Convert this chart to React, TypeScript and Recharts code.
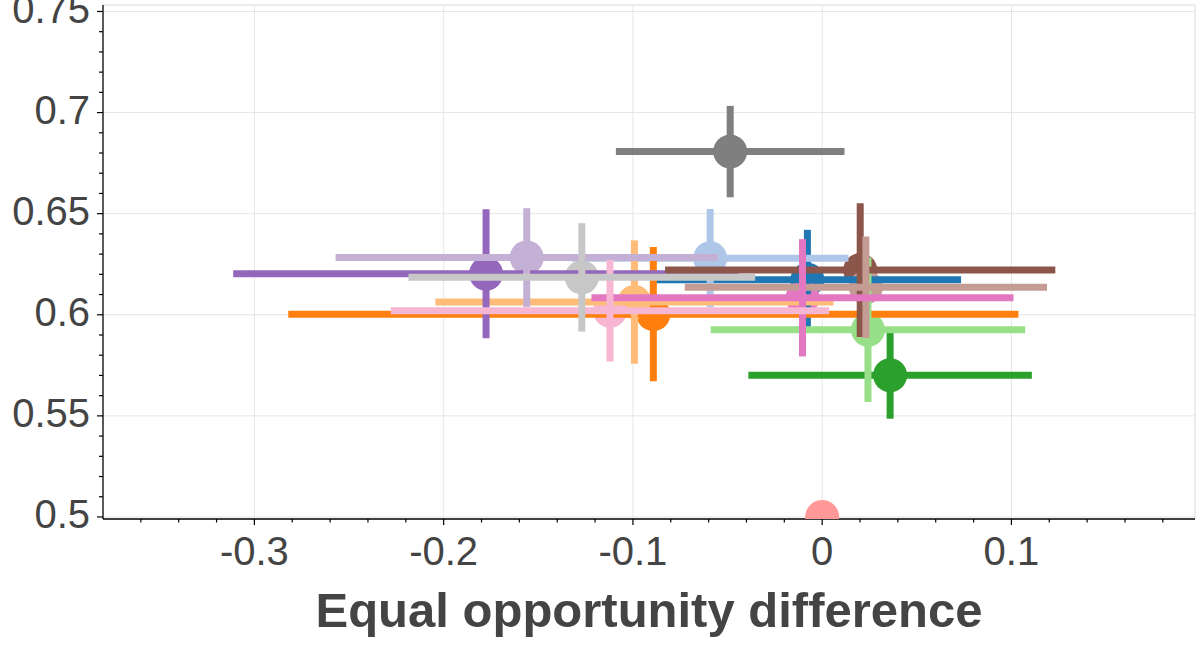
import React from 'react';
import { ScatterChart, Scatter, XAxis, YAxis, CartesianGrid, ErrorBar, ReferenceLine, Label } from 'recharts';

const seriesColors = [
  '#1f77b4', '#aec7e8', '#ff7f0e', '#ffbb78', '#2ca02c', '#98df8a', '#ff9896',
  '#9467bd', '#c5b0d5', '#8c564b', '#c49c94', '#e377c2', '#f7b6d2', '#7f7f7f', '#c7c7c7',
];
const xValues = [-0.0078, -0.0592, -0.0892, -0.0992, 0.0359, 0.0242, 0.0, -0.1776, -0.1561, 0.0201, 0.0231, -0.0104, -0.1121, -0.0486, -0.127];
const yValues = [0.6173, 0.628, 0.6003, 0.6063, 0.5701, 0.5926, 0.5, 0.6203, 0.6283, 0.6221, 0.6136, 0.6084, 0.602, 0.6807, 0.6185];
const xErrors = [0.0812, 0.0731, 0.1929, 0.1052, 0.0749, 0.0831, 0.0, 0.1336, 0.101, 0.1031, 0.0957, 0.1115, 0.1158, 0.0604, 0.0916];
const yErrors = [0.0247, 0.0243, 0.0332, 0.0305, 0.0215, 0.0357, 0.0, 0.0319, 0.0244, 0.0331, 0.0251, 0.029, 0.0251, 0.0226, 0.0268];

const xMajorTicks = [-0.3, -0.2, -0.1, 0, 0.1];
const xMinorTicks = [-0.36, -0.34, -0.32, -0.28, -0.26, -0.24, -0.22, -0.18, -0.16, -0.14, -0.12, -0.08, -0.06, -0.04, -0.02, 0.02, 0.04, 0.06, 0.08, 0.12, 0.14, 0.16, 0.18];
const yMajorTicks = [0.5, 0.55, 0.6, 0.65, 0.7, 0.75];
const yMinorTicks = [0.51, 0.52, 0.53, 0.54, 0.56, 0.57, 0.58, 0.59, 0.61, 0.62, 0.63, 0.64, 0.66, 0.67, 0.68, 0.69, 0.71, 0.72, 0.73, 0.74];
const xDomain = [-0.38, 0.197];
const yDomain = [0.499, 0.7532];

const FONT = '"Liberation Sans", Arial, Helvetica, sans-serif';
const TEXT_COLOR = '#444444';

const isMajor = (list: number[], v: number) => list.some((t) => Math.abs(t - v) < 1e-9);

const XTick = (props: any) => {
  const { x, y, payload } = props;
  const v = payload.value;
  const major = isMajor(xMajorTicks, v);
  return (
    <g>
      <line x1={x} x2={x} y1={y} y2={y + (major ? 6 : 3.5)} stroke="#000" strokeWidth={1.2} />
      {major && (
        <text x={x} y={y + 46} textAnchor="middle" fontSize={40} fontFamily={FONT} fill={TEXT_COLOR}>
          {String(v)}
        </text>
      )}
    </g>
  );
};

const YTick = (props: any) => {
  const { x, y, payload } = props;
  const v = payload.value;
  const major = isMajor(yMajorTicks, v);
  return (
    <g>
      <line x1={x} x2={x - (major ? 6 : 4)} y1={y} y2={y} stroke="#000" strokeWidth={1.2} />
      {major && (
        <text x={x - 13} y={y + 11.5} textAnchor="end" fontSize={40} fontFamily={FONT} fill={TEXT_COLOR}>
          {String(v)}
        </text>
      )}
    </g>
  );
};

const seriesData = seriesColors.map((color, i) => ({
  color,
  points: [{ x: xValues[i], y: yValues[i], xerr: xErrors[i], yerr: yErrors[i] }],
}));

export default function App() {
  return (
    <div style={{ position: 'absolute', left: 0, top: 0, width: 1200, height: 650, background: '#fff' }}>
      <ScatterChart width={1200} height={650} margin={{ top: 5, right: 5, bottom: 0, left: 0 }}>
        <CartesianGrid
          stroke="#e6e6e6"
          strokeWidth={1}
          horizontalValues={yMajorTicks}
          verticalValues={xMajorTicks}
        />
        <ReferenceLine y={yDomain[1]} stroke="#e6e6e6" strokeWidth={1.5} />
        <ReferenceLine x={xDomain[1]} stroke="#e6e6e6" strokeWidth={1.5} />
        <XAxis
          type="number"
          dataKey="x"
          domain={xDomain}
          allowDataOverflow
          ticks={[...xMajorTicks, ...xMinorTicks]}
          interval={0}
          tickSize={0}
          tickMargin={0}
          tick={<XTick />}
          tickLine={false}
          axisLine={{ stroke: '#000', strokeWidth: 1.3 }}
          height={131}
        >
          <Label
            value="Equal opportunity difference"
            position="insideBottom"
            offset={23}
            style={{ fontSize: 49, fontWeight: 'bold', fontFamily: FONT, fill: TEXT_COLOR }}
          />
        </XAxis>
        <YAxis
          type="number"
          dataKey="y"
          domain={yDomain}
          allowDataOverflow
          ticks={[...yMajorTicks, ...yMinorTicks]}
          interval={0}
          tickSize={0}
          tickMargin={0}
          tick={<YTick />}
          tickLine={false}
          axisLine={{ stroke: '#000', strokeWidth: 1.3 }}
          width={103}
        />
        {seriesData.map((s, i) => (
          <Scatter
            key={i}
            data={s.points}
            fill={s.color}
            isAnimationActive={false}
            zIndex={600 + i}
            shape={(p: any) => <circle cx={p.cx} cy={p.cy} r={17} fill={s.color} />}
          >
            <ErrorBar dataKey="xerr" direction="x" width={0} stroke={s.color} strokeWidth={7} isAnimationActive={false} zIndex={700 + i} />
            <ErrorBar dataKey="yerr" direction="y" width={0} stroke={s.color} strokeWidth={7} isAnimationActive={false} zIndex={700 + i} />
          </Scatter>
        ))}
      </ScatterChart>
    </div>
  );
}
